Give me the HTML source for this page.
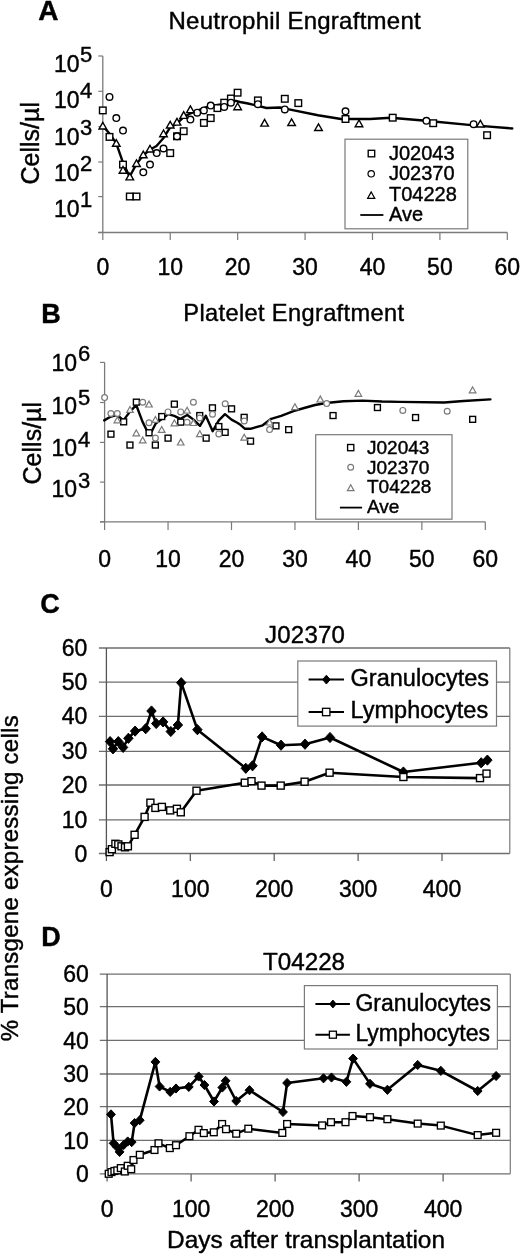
<!DOCTYPE html>
<html><head><meta charset="utf-8"><title>Engraftment</title>
<style>
html,body{margin:0;padding:0;background:#fff;}
body{width:520px;height:1255px;overflow:hidden;}
svg{display:block;font-family:"Liberation Sans", Arial, sans-serif;}
text{stroke:#000;stroke-width:0.42px;}
</style></head>
<body>
<svg width="520" height="1255" viewBox="0 0 520 1255" fill="#000">
<text x="38.2" y="20.0" font-size="28" text-anchor="start" font-weight="bold" >A</text>
<text x="168.5" y="29.3" font-size="24" text-anchor="start" font-weight="normal" textLength="252.2" lengthAdjust="spacing">Neutrophil Engraftment</text>
<line x1="102.8" y1="56.0" x2="102.8" y2="232.5" stroke="#7a7a7a" stroke-width="1.3"/>
<line x1="98.3" y1="232.5" x2="102.8" y2="232.5" stroke="#7a7a7a" stroke-width="1.2"/>
<line x1="98.3" y1="196.6" x2="102.8" y2="196.6" stroke="#7a7a7a" stroke-width="1.2"/>
<line x1="98.3" y1="162.0" x2="102.8" y2="162.0" stroke="#7a7a7a" stroke-width="1.2"/>
<line x1="98.3" y1="126.6" x2="102.8" y2="126.6" stroke="#7a7a7a" stroke-width="1.2"/>
<line x1="98.3" y1="91.3" x2="102.8" y2="91.3" stroke="#7a7a7a" stroke-width="1.2"/>
<line x1="98.3" y1="56.0" x2="102.8" y2="56.0" stroke="#7a7a7a" stroke-width="1.2"/>
<line x1="98.3" y1="232.5" x2="507.32" y2="232.5" stroke="#7a7a7a" stroke-width="1.3"/>
<line x1="102.8" y1="232.5" x2="102.8" y2="240.0" stroke="#7a7a7a" stroke-width="1.2"/>
<text x="102.8" y="275.3" font-size="23" text-anchor="middle" font-weight="normal" >0</text>
<line x1="170.22" y1="232.5" x2="170.22" y2="240.0" stroke="#7a7a7a" stroke-width="1.2"/>
<text x="170.22" y="275.3" font-size="23" text-anchor="middle" font-weight="normal" >10</text>
<line x1="237.64" y1="232.5" x2="237.64" y2="240.0" stroke="#7a7a7a" stroke-width="1.2"/>
<text x="237.64" y="275.3" font-size="23" text-anchor="middle" font-weight="normal" >20</text>
<line x1="305.06" y1="232.5" x2="305.06" y2="240.0" stroke="#7a7a7a" stroke-width="1.2"/>
<text x="305.06" y="275.3" font-size="23" text-anchor="middle" font-weight="normal" >30</text>
<line x1="372.48" y1="232.5" x2="372.48" y2="240.0" stroke="#7a7a7a" stroke-width="1.2"/>
<text x="372.48" y="275.3" font-size="23" text-anchor="middle" font-weight="normal" >40</text>
<line x1="439.90000000000003" y1="232.5" x2="439.90000000000003" y2="240.0" stroke="#7a7a7a" stroke-width="1.2"/>
<text x="439.90000000000003" y="275.3" font-size="23" text-anchor="middle" font-weight="normal" >50</text>
<line x1="507.32" y1="232.5" x2="507.32" y2="240.0" stroke="#7a7a7a" stroke-width="1.2"/>
<text x="507.32" y="275.3" font-size="23" text-anchor="middle" font-weight="normal" >60</text>
<text x="79.5" y="71.7" font-size="23" text-anchor="end" font-weight="normal" >10</text>
<text x="80" y="61.800000000000004" font-size="22" text-anchor="start" font-weight="normal" >5</text>
<text x="79.5" y="107.8" font-size="23" text-anchor="end" font-weight="normal" >10</text>
<text x="80" y="97.9" font-size="22" text-anchor="start" font-weight="normal" >4</text>
<text x="79.5" y="144.60000000000002" font-size="23" text-anchor="end" font-weight="normal" >10</text>
<text x="80" y="134.70000000000002" font-size="22" text-anchor="start" font-weight="normal" >3</text>
<text x="79.5" y="180.8" font-size="23" text-anchor="end" font-weight="normal" >10</text>
<text x="80" y="170.9" font-size="22" text-anchor="start" font-weight="normal" >2</text>
<text x="79.5" y="217.10000000000002" font-size="23" text-anchor="end" font-weight="normal" >10</text>
<text x="80" y="207.20000000000002" font-size="22" text-anchor="start" font-weight="normal" >1</text>
<text transform="translate(39.2,143.3) rotate(-90)" font-size="25" text-anchor="middle">Cells/µl</text>
<polyline points="102.8,125.8 109.4,133.5 116.2,143.1 122.9,162.3 129.6,176.7 136.3,164.2 143.1,155.6 149.8,149.8 156.5,146.0 163.3,138.3 170.0,127.7 176.7,123.8 183.5,117.1 190.6,113.3 197.3,110.5 204.0,108.0 210.8,106.0 217.5,105.0 224.2,104.0 231.0,102.0 235.8,100.8 240.0,102.0 248.0,103.5 257.0,105.6 266.5,108.0 280.0,107.5 289.0,109.4 318.0,115.2 341.0,119.0 351.0,119.0 370.0,119.0 390.8,117.7 426.0,120.8 474.0,125.4 512.3,128.5" fill="none" stroke="#000" stroke-width="2.4" stroke-linejoin="round" stroke-linecap="round"/>
<rect x="99.5" y="107.1" width="6.6" height="6.6" fill="#fff" stroke="#000" stroke-width="1.4"/>
<rect x="106.2" y="133.6" width="6.6" height="6.6" fill="#fff" stroke="#000" stroke-width="1.4"/>
<rect x="119.7" y="161.3" width="6.6" height="6.6" fill="#fff" stroke="#000" stroke-width="1.4"/>
<rect x="126.5" y="193.2" width="6.6" height="6.6" fill="#fff" stroke="#000" stroke-width="1.4"/>
<rect x="133.2" y="193.2" width="6.6" height="6.6" fill="#fff" stroke="#000" stroke-width="1.4"/>
<rect x="166.9" y="149.8" width="6.6" height="6.6" fill="#fff" stroke="#000" stroke-width="1.4"/>
<rect x="173.7" y="133.0" width="6.6" height="6.6" fill="#fff" stroke="#000" stroke-width="1.4"/>
<rect x="180.4" y="127.9" width="6.6" height="6.6" fill="#fff" stroke="#000" stroke-width="1.4"/>
<rect x="200.6" y="119.6" width="6.6" height="6.6" fill="#fff" stroke="#000" stroke-width="1.4"/>
<rect x="207.4" y="114.8" width="6.6" height="6.6" fill="#fff" stroke="#000" stroke-width="1.4"/>
<rect x="214.1" y="104.8" width="6.6" height="6.6" fill="#fff" stroke="#000" stroke-width="1.4"/>
<rect x="220.9" y="99.4" width="6.6" height="6.6" fill="#fff" stroke="#000" stroke-width="1.4"/>
<rect x="227.6" y="95.2" width="6.6" height="6.6" fill="#fff" stroke="#000" stroke-width="1.4"/>
<rect x="234.3" y="89.4" width="6.6" height="6.6" fill="#fff" stroke="#000" stroke-width="1.4"/>
<rect x="254.6" y="97.1" width="6.6" height="6.6" fill="#fff" stroke="#000" stroke-width="1.4"/>
<rect x="281.5" y="95.5" width="6.6" height="6.6" fill="#fff" stroke="#000" stroke-width="1.4"/>
<rect x="295.0" y="99.8" width="6.6" height="6.6" fill="#fff" stroke="#000" stroke-width="1.4"/>
<rect x="342.2" y="115.7" width="6.6" height="6.6" fill="#fff" stroke="#000" stroke-width="1.4"/>
<rect x="389.4" y="114.4" width="6.6" height="6.6" fill="#fff" stroke="#000" stroke-width="1.4"/>
<rect x="429.9" y="119.9" width="6.6" height="6.6" fill="#fff" stroke="#000" stroke-width="1.4"/>
<rect x="483.8" y="131.9" width="6.6" height="6.6" fill="#fff" stroke="#000" stroke-width="1.4"/>
<circle cx="109.5" cy="96.9" r="3.3" fill="#fff" stroke="#000" stroke-width="1.4"/>
<circle cx="116.3" cy="118.1" r="3.3" fill="#fff" stroke="#000" stroke-width="1.4"/>
<circle cx="123.0" cy="130.6" r="3.3" fill="#fff" stroke="#000" stroke-width="1.4"/>
<circle cx="143.3" cy="172.3" r="3.3" fill="#fff" stroke="#000" stroke-width="1.4"/>
<circle cx="150.0" cy="164.6" r="3.3" fill="#fff" stroke="#000" stroke-width="1.4"/>
<circle cx="156.7" cy="153.1" r="3.3" fill="#fff" stroke="#000" stroke-width="1.4"/>
<circle cx="163.5" cy="148.5" r="3.3" fill="#fff" stroke="#000" stroke-width="1.4"/>
<circle cx="177.0" cy="136.3" r="3.3" fill="#fff" stroke="#000" stroke-width="1.4"/>
<circle cx="190.4" cy="119.6" r="3.3" fill="#fff" stroke="#000" stroke-width="1.4"/>
<circle cx="197.2" cy="112.7" r="3.3" fill="#fff" stroke="#000" stroke-width="1.4"/>
<circle cx="203.9" cy="110.4" r="3.3" fill="#fff" stroke="#000" stroke-width="1.4"/>
<circle cx="210.7" cy="105.6" r="3.3" fill="#fff" stroke="#000" stroke-width="1.4"/>
<circle cx="224.2" cy="106.9" r="3.3" fill="#fff" stroke="#000" stroke-width="1.4"/>
<circle cx="230.9" cy="102.7" r="3.3" fill="#fff" stroke="#000" stroke-width="1.4"/>
<circle cx="257.9" cy="104.2" r="3.3" fill="#fff" stroke="#000" stroke-width="1.4"/>
<circle cx="284.8" cy="109.4" r="3.3" fill="#fff" stroke="#000" stroke-width="1.4"/>
<circle cx="345.5" cy="111.3" r="3.3" fill="#fff" stroke="#000" stroke-width="1.4"/>
<circle cx="426.4" cy="120.8" r="3.3" fill="#fff" stroke="#000" stroke-width="1.4"/>
<circle cx="473.6" cy="124.2" r="3.3" fill="#fff" stroke="#000" stroke-width="1.4"/>
<polygon points="102.8,122.3 99.0,129.0 106.6,129.0" fill="#fff" stroke="#000" stroke-width="1.4" stroke-linejoin="miter"/>
<polygon points="116.3,139.6 112.5,146.3 120.1,146.3" fill="#fff" stroke="#000" stroke-width="1.4" stroke-linejoin="miter"/>
<polygon points="123.0,166.5 119.2,173.2 126.8,173.2" fill="#fff" stroke="#000" stroke-width="1.4" stroke-linejoin="miter"/>
<polygon points="129.8,173.2 126.0,179.9 133.6,179.9" fill="#fff" stroke="#000" stroke-width="1.4" stroke-linejoin="miter"/>
<polygon points="136.5,159.8 132.7,166.5 140.3,166.5" fill="#fff" stroke="#000" stroke-width="1.4" stroke-linejoin="miter"/>
<polygon points="143.3,151.1 139.5,157.8 147.1,157.8" fill="#fff" stroke="#000" stroke-width="1.4" stroke-linejoin="miter"/>
<polygon points="150.0,145.3 146.2,152.0 153.8,152.0" fill="#fff" stroke="#000" stroke-width="1.4" stroke-linejoin="miter"/>
<polygon points="163.5,130.0 159.7,136.7 167.3,136.7" fill="#fff" stroke="#000" stroke-width="1.4" stroke-linejoin="miter"/>
<polygon points="170.2,121.3 166.4,128.0 174.0,128.0" fill="#fff" stroke="#000" stroke-width="1.4" stroke-linejoin="miter"/>
<polygon points="177.0,118.4 173.2,125.1 180.8,125.1" fill="#fff" stroke="#000" stroke-width="1.4" stroke-linejoin="miter"/>
<polygon points="183.7,111.7 179.9,118.4 187.5,118.4" fill="#fff" stroke="#000" stroke-width="1.4" stroke-linejoin="miter"/>
<polygon points="190.4,105.9 186.6,112.6 194.2,112.6" fill="#fff" stroke="#000" stroke-width="1.4" stroke-linejoin="miter"/>
<polygon points="237.6,103.0 233.8,109.7 241.4,109.7" fill="#fff" stroke="#000" stroke-width="1.4" stroke-linejoin="miter"/>
<polygon points="264.6,119.4 260.8,126.1 268.4,126.1" fill="#fff" stroke="#000" stroke-width="1.4" stroke-linejoin="miter"/>
<polygon points="291.6,118.8 287.8,125.5 295.4,125.5" fill="#fff" stroke="#000" stroke-width="1.4" stroke-linejoin="miter"/>
<polygon points="318.5,123.8 314.7,130.5 322.3,130.5" fill="#fff" stroke="#000" stroke-width="1.4" stroke-linejoin="miter"/>
<polygon points="359.0,120.0 355.2,126.7 362.8,126.7" fill="#fff" stroke="#000" stroke-width="1.4" stroke-linejoin="miter"/>
<polygon points="480.4,120.3 476.6,127.0 484.2,127.0" fill="#fff" stroke="#000" stroke-width="1.4" stroke-linejoin="miter"/>
<rect x="345" y="139.2" width="122.8" height="89.6" fill="#fff" stroke="#7a7a7a" stroke-width="1.2"/>
<rect x="368.2" y="150.3" width="6.5" height="6.5" fill="#fff" stroke="#000" stroke-width="1.35"/>
<circle cx="371.2" cy="173.8" r="3.2" fill="#fff" stroke="#000" stroke-width="1.2"/>
<polygon points="371.2,191.9 367.6,198.4 374.8,198.4" fill="#fff" stroke="#000" stroke-width="1.2" stroke-linejoin="miter"/>
<line x1="360.3" y1="215" x2="383.4" y2="215" stroke="#000" stroke-width="1.8"/>
<text x="389" y="159.9" font-size="20" text-anchor="start" font-weight="normal" >J02043</text>
<text x="389" y="180.43" font-size="20" text-anchor="start" font-weight="normal" >J02370</text>
<text x="389" y="200.96" font-size="20" text-anchor="start" font-weight="normal" >T04228</text>
<text x="389" y="221.49" font-size="20" text-anchor="start" font-weight="normal" >Ave</text>
<text x="41.2" y="323.4" font-size="27" text-anchor="start" font-weight="bold" >B</text>
<text x="183.3" y="320.6" font-size="23.6" text-anchor="start" font-weight="normal" textLength="220.7" lengthAdjust="spacing">Platelet Engraftment</text>
<line x1="104.6" y1="362.4" x2="104.6" y2="521.8" stroke="#7a7a7a" stroke-width="1.3"/>
<line x1="100.1" y1="521.8" x2="104.6" y2="521.8" stroke="#7a7a7a" stroke-width="1.2"/>
<line x1="100.1" y1="482.1" x2="104.6" y2="482.1" stroke="#7a7a7a" stroke-width="1.2"/>
<line x1="100.1" y1="442.4" x2="104.6" y2="442.4" stroke="#7a7a7a" stroke-width="1.2"/>
<line x1="100.1" y1="402.5" x2="104.6" y2="402.5" stroke="#7a7a7a" stroke-width="1.2"/>
<line x1="100.1" y1="362.4" x2="104.6" y2="362.4" stroke="#7a7a7a" stroke-width="1.2"/>
<line x1="100.1" y1="521.8" x2="485.29999999999995" y2="521.8" stroke="#7a7a7a" stroke-width="1.3"/>
<line x1="104.6" y1="521.8" x2="104.6" y2="530.0999999999999" stroke="#7a7a7a" stroke-width="1.2"/>
<text x="104.6" y="566.6" font-size="23" text-anchor="middle" font-weight="normal" >0</text>
<line x1="168.04999999999998" y1="521.8" x2="168.04999999999998" y2="530.0999999999999" stroke="#7a7a7a" stroke-width="1.2"/>
<text x="168.04999999999998" y="566.6" font-size="23" text-anchor="middle" font-weight="normal" >10</text>
<line x1="231.5" y1="521.8" x2="231.5" y2="530.0999999999999" stroke="#7a7a7a" stroke-width="1.2"/>
<text x="231.5" y="566.6" font-size="23" text-anchor="middle" font-weight="normal" >20</text>
<line x1="294.95" y1="521.8" x2="294.95" y2="530.0999999999999" stroke="#7a7a7a" stroke-width="1.2"/>
<text x="294.95" y="566.6" font-size="23" text-anchor="middle" font-weight="normal" >30</text>
<line x1="358.4" y1="521.8" x2="358.4" y2="530.0999999999999" stroke="#7a7a7a" stroke-width="1.2"/>
<text x="358.4" y="566.6" font-size="23" text-anchor="middle" font-weight="normal" >40</text>
<line x1="421.85" y1="521.8" x2="421.85" y2="530.0999999999999" stroke="#7a7a7a" stroke-width="1.2"/>
<text x="421.85" y="566.6" font-size="23" text-anchor="middle" font-weight="normal" >50</text>
<line x1="485.29999999999995" y1="521.8" x2="485.29999999999995" y2="530.0999999999999" stroke="#7a7a7a" stroke-width="1.2"/>
<text x="485.29999999999995" y="566.6" font-size="23" text-anchor="middle" font-weight="normal" >60</text>
<text x="77" y="370.7" font-size="23" text-anchor="end" font-weight="normal" >10</text>
<text x="78" y="361.3" font-size="22" text-anchor="start" font-weight="normal" >6</text>
<text x="77" y="414.0" font-size="23" text-anchor="end" font-weight="normal" >10</text>
<text x="78" y="404.6" font-size="22" text-anchor="start" font-weight="normal" >5</text>
<text x="77" y="456.2" font-size="23" text-anchor="end" font-weight="normal" >10</text>
<text x="78" y="446.8" font-size="22" text-anchor="start" font-weight="normal" >4</text>
<text x="77" y="497.1" font-size="23" text-anchor="end" font-weight="normal" >10</text>
<text x="78" y="487.70000000000005" font-size="22" text-anchor="start" font-weight="normal" >3</text>
<text transform="translate(41,443.2) rotate(-90)" font-size="25" text-anchor="middle">Cells/µl</text>
<polyline points="104.2,420.4 110.9,416.5 117.2,415.0 123.4,420.4 129.8,411.9 136.2,405.0 142.6,421.9 147.2,431.2 151.8,431.2 155.7,423.5 161.1,419.6 168.0,414.2 174.2,415.8 180.4,418.8 187.3,415.0 193.5,419.6 200.0,425.8 205.8,415.8 212.7,431.2 218.8,420.4 225.0,414.2 231.5,419.6 237.3,422.7 239.6,424.2 245.0,428.8 250.4,428.8 262.7,425.3 271.2,418.8 281.2,415.8 293.5,411.2 304.2,408.0 315.0,405.0 320.4,404.0 326.2,403.0 343.5,401.2 362.7,400.6 381.9,401.5 400.0,401.9 444.2,402.5 463.5,401.0 490.4,399.4" fill="none" stroke="#000" stroke-width="2.4" stroke-linejoin="round" stroke-linecap="round"/>
<rect x="108.0" y="431.2" width="5.9" height="5.9" fill="#fff" stroke="#000" stroke-width="1.4"/>
<rect x="120.7" y="418.9" width="5.9" height="5.9" fill="#fff" stroke="#000" stroke-width="1.4"/>
<rect x="127.0" y="442.1" width="5.9" height="5.9" fill="#fff" stroke="#000" stroke-width="1.4"/>
<rect x="133.4" y="399.2" width="5.9" height="5.9" fill="#fff" stroke="#000" stroke-width="1.4"/>
<rect x="146.1" y="429.8" width="5.9" height="5.9" fill="#fff" stroke="#000" stroke-width="1.4"/>
<rect x="152.4" y="442.1" width="5.9" height="5.9" fill="#fff" stroke="#000" stroke-width="1.4"/>
<rect x="158.8" y="413.6" width="5.9" height="5.9" fill="#fff" stroke="#000" stroke-width="1.4"/>
<rect x="165.1" y="435.2" width="5.9" height="5.9" fill="#fff" stroke="#000" stroke-width="1.4"/>
<rect x="171.4" y="401.2" width="5.9" height="5.9" fill="#fff" stroke="#000" stroke-width="1.4"/>
<rect x="177.8" y="419.2" width="5.9" height="5.9" fill="#fff" stroke="#000" stroke-width="1.4"/>
<rect x="196.8" y="412.6" width="5.9" height="5.9" fill="#fff" stroke="#000" stroke-width="1.4"/>
<rect x="203.2" y="435.2" width="5.9" height="5.9" fill="#fff" stroke="#000" stroke-width="1.4"/>
<rect x="209.5" y="404.9" width="5.9" height="5.9" fill="#fff" stroke="#000" stroke-width="1.4"/>
<rect x="215.9" y="423.6" width="5.9" height="5.9" fill="#fff" stroke="#000" stroke-width="1.4"/>
<rect x="222.2" y="429.4" width="5.9" height="5.9" fill="#fff" stroke="#000" stroke-width="1.4"/>
<rect x="228.6" y="405.9" width="5.9" height="5.9" fill="#fff" stroke="#000" stroke-width="1.4"/>
<rect x="241.2" y="414.4" width="5.9" height="5.9" fill="#fff" stroke="#000" stroke-width="1.4"/>
<rect x="247.6" y="438.2" width="5.9" height="5.9" fill="#fff" stroke="#000" stroke-width="1.4"/>
<rect x="273.0" y="422.9" width="5.9" height="5.9" fill="#fff" stroke="#000" stroke-width="1.4"/>
<rect x="285.7" y="426.7" width="5.9" height="5.9" fill="#fff" stroke="#000" stroke-width="1.4"/>
<rect x="330.1" y="412.6" width="5.9" height="5.9" fill="#fff" stroke="#000" stroke-width="1.4"/>
<rect x="374.5" y="404.6" width="5.9" height="5.9" fill="#fff" stroke="#000" stroke-width="1.4"/>
<rect x="412.6" y="414.6" width="5.9" height="5.9" fill="#fff" stroke="#000" stroke-width="1.4"/>
<rect x="469.7" y="416.4" width="5.9" height="5.9" fill="#fff" stroke="#000" stroke-width="1.4"/>
<circle cx="104.6" cy="397.6" r="2.9" fill="#fff" stroke="#7a7a7a" stroke-width="1.2"/>
<circle cx="110.9" cy="413.5" r="2.9" fill="#fff" stroke="#7a7a7a" stroke-width="1.2"/>
<circle cx="117.3" cy="413.5" r="2.9" fill="#fff" stroke="#7a7a7a" stroke-width="1.2"/>
<circle cx="142.7" cy="402.2" r="2.9" fill="#fff" stroke="#7a7a7a" stroke-width="1.2"/>
<circle cx="149.0" cy="422.7" r="2.9" fill="#fff" stroke="#7a7a7a" stroke-width="1.2"/>
<circle cx="155.4" cy="438.1" r="2.9" fill="#fff" stroke="#7a7a7a" stroke-width="1.2"/>
<circle cx="168.0" cy="411.9" r="2.9" fill="#fff" stroke="#7a7a7a" stroke-width="1.2"/>
<circle cx="180.7" cy="411.9" r="2.9" fill="#fff" stroke="#7a7a7a" stroke-width="1.2"/>
<circle cx="187.1" cy="422.2" r="2.9" fill="#fff" stroke="#7a7a7a" stroke-width="1.2"/>
<circle cx="193.4" cy="402.2" r="2.9" fill="#fff" stroke="#7a7a7a" stroke-width="1.2"/>
<circle cx="199.8" cy="418.0" r="2.9" fill="#fff" stroke="#7a7a7a" stroke-width="1.2"/>
<circle cx="212.5" cy="414.2" r="2.9" fill="#fff" stroke="#7a7a7a" stroke-width="1.2"/>
<circle cx="218.8" cy="433.9" r="2.9" fill="#fff" stroke="#7a7a7a" stroke-width="1.2"/>
<circle cx="225.2" cy="403.8" r="2.9" fill="#fff" stroke="#7a7a7a" stroke-width="1.2"/>
<circle cx="244.2" cy="421.0" r="2.9" fill="#fff" stroke="#7a7a7a" stroke-width="1.2"/>
<circle cx="269.6" cy="429.6" r="2.9" fill="#fff" stroke="#7a7a7a" stroke-width="1.2"/>
<circle cx="326.7" cy="403.6" r="2.9" fill="#fff" stroke="#7a7a7a" stroke-width="1.2"/>
<circle cx="402.8" cy="410.4" r="2.9" fill="#fff" stroke="#7a7a7a" stroke-width="1.2"/>
<circle cx="447.2" cy="411.3" r="2.9" fill="#fff" stroke="#7a7a7a" stroke-width="1.2"/>
<polygon points="117.3,417.0 114.0,422.9 120.6,422.9" fill="#fff" stroke="#7a7a7a" stroke-width="1.2" stroke-linejoin="miter"/>
<polygon points="130.0,406.5 126.7,412.4 133.3,412.4" fill="#fff" stroke="#7a7a7a" stroke-width="1.2" stroke-linejoin="miter"/>
<polygon points="136.3,429.9 133.0,435.8 139.6,435.8" fill="#fff" stroke="#7a7a7a" stroke-width="1.2" stroke-linejoin="miter"/>
<polygon points="142.7,437.0 139.4,442.9 146.0,442.9" fill="#fff" stroke="#7a7a7a" stroke-width="1.2" stroke-linejoin="miter"/>
<polygon points="149.0,401.1 145.7,407.0 152.3,407.0" fill="#fff" stroke="#7a7a7a" stroke-width="1.2" stroke-linejoin="miter"/>
<polygon points="155.4,416.5 152.1,422.4 158.7,422.4" fill="#fff" stroke="#7a7a7a" stroke-width="1.2" stroke-linejoin="miter"/>
<polygon points="161.7,426.5 158.4,432.4 165.0,432.4" fill="#fff" stroke="#7a7a7a" stroke-width="1.2" stroke-linejoin="miter"/>
<polygon points="174.4,419.9 171.1,425.8 177.7,425.8" fill="#fff" stroke="#7a7a7a" stroke-width="1.2" stroke-linejoin="miter"/>
<polygon points="180.7,439.1 177.4,445.0 184.0,445.0" fill="#fff" stroke="#7a7a7a" stroke-width="1.2" stroke-linejoin="miter"/>
<polygon points="187.1,407.3 183.8,413.2 190.4,413.2" fill="#fff" stroke="#7a7a7a" stroke-width="1.2" stroke-linejoin="miter"/>
<polygon points="193.4,419.6 190.1,425.5 196.7,425.5" fill="#fff" stroke="#7a7a7a" stroke-width="1.2" stroke-linejoin="miter"/>
<polygon points="199.8,430.8 196.5,436.7 203.1,436.7" fill="#fff" stroke="#7a7a7a" stroke-width="1.2" stroke-linejoin="miter"/>
<polygon points="244.2,434.2 240.9,440.1 247.5,440.1" fill="#fff" stroke="#7a7a7a" stroke-width="1.2" stroke-linejoin="miter"/>
<polygon points="269.6,419.1 266.3,425.0 272.9,425.0" fill="#fff" stroke="#7a7a7a" stroke-width="1.2" stroke-linejoin="miter"/>
<polygon points="294.9,403.7 291.6,409.6 298.2,409.6" fill="#fff" stroke="#7a7a7a" stroke-width="1.2" stroke-linejoin="miter"/>
<polygon points="320.3,396.1 317.0,402.0 323.6,402.0" fill="#fff" stroke="#7a7a7a" stroke-width="1.2" stroke-linejoin="miter"/>
<polygon points="358.4,390.4 355.1,396.3 361.7,396.3" fill="#fff" stroke="#7a7a7a" stroke-width="1.2" stroke-linejoin="miter"/>
<polygon points="472.6,386.9 469.3,392.8 475.9,392.8" fill="#fff" stroke="#7a7a7a" stroke-width="1.2" stroke-linejoin="miter"/>
<rect x="315.7" y="434.7" width="136.3" height="84.5" fill="#fff" stroke="#7a7a7a" stroke-width="1.2"/>
<rect x="347.6" y="444.5" width="6.2" height="6.2" fill="#fff" stroke="#000" stroke-width="1.35"/>
<circle cx="350.7" cy="467.2" r="2.9" fill="#fff" stroke="#7a7a7a" stroke-width="1.2"/>
<polygon points="350.7,484.7 347.4,490.6 354.0,490.6" fill="#fff" stroke="#7a7a7a" stroke-width="1.2" stroke-linejoin="miter"/>
<line x1="339.9" y1="507.6" x2="362.1" y2="507.6" stroke="#000" stroke-width="1.8"/>
<text x="367" y="453.8" font-size="19" text-anchor="start" font-weight="normal" >J02043</text>
<text x="367" y="473.5" font-size="19" text-anchor="start" font-weight="normal" >J02370</text>
<text x="367" y="493.2" font-size="19" text-anchor="start" font-weight="normal" >T04228</text>
<text x="367" y="512.9" font-size="19" text-anchor="start" font-weight="normal" >Ave</text>
<text x="40.3" y="613.3" font-size="27" text-anchor="start" font-weight="bold" >C</text>
<text x="265.0" y="642.8" font-size="24" text-anchor="start" font-weight="normal" textLength="79.9" lengthAdjust="spacing">J02370</text>
<line x1="98.9" y1="853.5" x2="509.8" y2="853.5" stroke="#6e6e6e" stroke-width="1.3"/>
<text x="87.3" y="861.5" font-size="23" text-anchor="end" font-weight="normal" >0</text>
<line x1="98.9" y1="819.8" x2="509.8" y2="819.8" stroke="#6e6e6e" stroke-width="1.3"/>
<text x="87.3" y="827.8" font-size="23" text-anchor="end" font-weight="normal" >10</text>
<line x1="98.9" y1="785.0" x2="509.8" y2="785.0" stroke="#6e6e6e" stroke-width="1.3"/>
<text x="87.3" y="793.0" font-size="23" text-anchor="end" font-weight="normal" >20</text>
<line x1="98.9" y1="751.3" x2="509.8" y2="751.3" stroke="#6e6e6e" stroke-width="1.3"/>
<text x="87.3" y="759.3" font-size="23" text-anchor="end" font-weight="normal" >30</text>
<line x1="98.9" y1="716.4" x2="509.8" y2="716.4" stroke="#6e6e6e" stroke-width="1.3"/>
<text x="87.3" y="724.4" font-size="23" text-anchor="end" font-weight="normal" >40</text>
<line x1="98.9" y1="682.1" x2="509.8" y2="682.1" stroke="#6e6e6e" stroke-width="1.3"/>
<text x="87.3" y="690.1" font-size="23" text-anchor="end" font-weight="normal" >50</text>
<line x1="98.9" y1="648.0" x2="509.8" y2="648.0" stroke="#6e6e6e" stroke-width="1.3"/>
<text x="87.3" y="656.0" font-size="23" text-anchor="end" font-weight="normal" >60</text>
<line x1="509.8" y1="648.0" x2="509.8" y2="853.5" stroke="#7a7a7a" stroke-width="1.2"/>
<line x1="106.4" y1="648.0" x2="106.4" y2="853.5" stroke="#555" stroke-width="1.3"/>
<line x1="106.4" y1="853.6" x2="106.4" y2="861.1" stroke="#555" stroke-width="1.2"/>
<text x="106.4" y="897.3" font-size="23" text-anchor="middle" font-weight="normal" >0</text>
<line x1="190.3" y1="853.6" x2="190.3" y2="861.1" stroke="#555" stroke-width="1.2"/>
<text x="190.3" y="897.3" font-size="23" text-anchor="middle" font-weight="normal" >100</text>
<line x1="274.2" y1="853.6" x2="274.2" y2="861.1" stroke="#555" stroke-width="1.2"/>
<text x="274.2" y="897.3" font-size="23" text-anchor="middle" font-weight="normal" >200</text>
<line x1="358.1" y1="853.6" x2="358.1" y2="861.1" stroke="#555" stroke-width="1.2"/>
<text x="358.1" y="897.3" font-size="23" text-anchor="middle" font-weight="normal" >300</text>
<line x1="442.0" y1="853.6" x2="442.0" y2="861.1" stroke="#555" stroke-width="1.2"/>
<text x="442.0" y="897.3" font-size="23" text-anchor="middle" font-weight="normal" >400</text>
<polyline points="110.1,741.6 113.0,748.8 118.3,741.6 123.1,747.4 128.4,738.3 135.1,731.1 145.7,728.7 151.5,711.0 156.2,723.5 163.1,721.9 170.8,731.5 177.9,725.0 181.2,682.7 197.4,729.7 245.8,768.3 252.5,765.8 262.1,736.9 281.0,745.2 305.0,744.2 330.0,737.5 403.4,772.0 481.2,762.8 487.4,760.1" fill="none" stroke="#000" stroke-width="2.6" stroke-linejoin="round" stroke-linecap="round"/>
<polygon points="110.1,736.5 114.8,741.6 110.1,746.7 105.4,741.6" fill="#000" stroke="#000" stroke-width="1"/>
<polygon points="113.0,743.7 117.7,748.8 113.0,753.9 108.3,748.8" fill="#000" stroke="#000" stroke-width="1"/>
<polygon points="118.3,736.5 123.0,741.6 118.3,746.7 113.6,741.6" fill="#000" stroke="#000" stroke-width="1"/>
<polygon points="123.1,742.3 127.8,747.4 123.1,752.5 118.4,747.4" fill="#000" stroke="#000" stroke-width="1"/>
<polygon points="128.4,733.2 133.1,738.3 128.4,743.4 123.7,738.3" fill="#000" stroke="#000" stroke-width="1"/>
<polygon points="135.1,726.0 139.8,731.1 135.1,736.2 130.4,731.1" fill="#000" stroke="#000" stroke-width="1"/>
<polygon points="145.7,723.6 150.4,728.7 145.7,733.8 141.0,728.7" fill="#000" stroke="#000" stroke-width="1"/>
<polygon points="151.5,705.9 156.2,711.0 151.5,716.1 146.8,711.0" fill="#000" stroke="#000" stroke-width="1"/>
<polygon points="156.2,718.4 160.9,723.5 156.2,728.6 151.5,723.5" fill="#000" stroke="#000" stroke-width="1"/>
<polygon points="163.1,716.8 167.8,721.9 163.1,727.0 158.4,721.9" fill="#000" stroke="#000" stroke-width="1"/>
<polygon points="170.8,726.4 175.5,731.5 170.8,736.6 166.1,731.5" fill="#000" stroke="#000" stroke-width="1"/>
<polygon points="177.9,719.9 182.6,725.0 177.9,730.1 173.2,725.0" fill="#000" stroke="#000" stroke-width="1"/>
<polygon points="181.2,677.6 185.9,682.7 181.2,687.8 176.5,682.7" fill="#000" stroke="#000" stroke-width="1"/>
<polygon points="197.4,724.6 202.1,729.7 197.4,734.8 192.7,729.7" fill="#000" stroke="#000" stroke-width="1"/>
<polygon points="245.8,763.2 250.5,768.3 245.8,773.4 241.1,768.3" fill="#000" stroke="#000" stroke-width="1"/>
<polygon points="252.5,760.7 257.2,765.8 252.5,770.9 247.8,765.8" fill="#000" stroke="#000" stroke-width="1"/>
<polygon points="262.1,731.8 266.8,736.9 262.1,742.0 257.4,736.9" fill="#000" stroke="#000" stroke-width="1"/>
<polygon points="281.0,740.1 285.7,745.2 281.0,750.3 276.3,745.2" fill="#000" stroke="#000" stroke-width="1"/>
<polygon points="305.0,739.1 309.7,744.2 305.0,749.3 300.3,744.2" fill="#000" stroke="#000" stroke-width="1"/>
<polygon points="330.0,732.4 334.7,737.5 330.0,742.6 325.3,737.5" fill="#000" stroke="#000" stroke-width="1"/>
<polygon points="403.4,766.9 408.1,772.0 403.4,777.1 398.7,772.0" fill="#000" stroke="#000" stroke-width="1"/>
<polygon points="481.2,757.7 485.9,762.8 481.2,767.9 476.5,762.8" fill="#000" stroke="#000" stroke-width="1"/>
<polygon points="487.4,755.0 492.1,760.1 487.4,765.2 482.7,760.1" fill="#000" stroke="#000" stroke-width="1"/>
<polyline points="109.6,852.1 111.9,849.2 115.4,843.8 118.3,844.4 121.5,846.3 125.0,847.3 127.9,846.3 134.6,834.8 144.6,816.9 150.4,802.7 155.4,807.9 161.9,806.9 170.2,810.4 176.9,808.8 180.8,812.3 196.5,790.7 244.8,782.7 251.5,781.2 261.5,785.6 280.7,785.6 304.6,781.7 329.6,772.7 403.4,777.0 480.0,778.1 486.5,773.6" fill="none" stroke="#000" stroke-width="2.6" stroke-linejoin="round" stroke-linecap="round"/>
<rect x="106.1" y="848.6" width="7.0" height="7.0" fill="#fff" stroke="#000" stroke-width="1.4"/>
<rect x="108.4" y="845.7" width="7.0" height="7.0" fill="#fff" stroke="#000" stroke-width="1.4"/>
<rect x="111.9" y="840.3" width="7.0" height="7.0" fill="#fff" stroke="#000" stroke-width="1.4"/>
<rect x="114.8" y="840.9" width="7.0" height="7.0" fill="#fff" stroke="#000" stroke-width="1.4"/>
<rect x="118.0" y="842.8" width="7.0" height="7.0" fill="#fff" stroke="#000" stroke-width="1.4"/>
<rect x="121.5" y="843.8" width="7.0" height="7.0" fill="#fff" stroke="#000" stroke-width="1.4"/>
<rect x="124.4" y="842.8" width="7.0" height="7.0" fill="#fff" stroke="#000" stroke-width="1.4"/>
<rect x="131.1" y="831.3" width="7.0" height="7.0" fill="#fff" stroke="#000" stroke-width="1.4"/>
<rect x="141.1" y="813.4" width="7.0" height="7.0" fill="#fff" stroke="#000" stroke-width="1.4"/>
<rect x="146.9" y="799.2" width="7.0" height="7.0" fill="#fff" stroke="#000" stroke-width="1.4"/>
<rect x="151.9" y="804.4" width="7.0" height="7.0" fill="#fff" stroke="#000" stroke-width="1.4"/>
<rect x="158.4" y="803.4" width="7.0" height="7.0" fill="#fff" stroke="#000" stroke-width="1.4"/>
<rect x="166.7" y="806.9" width="7.0" height="7.0" fill="#fff" stroke="#000" stroke-width="1.4"/>
<rect x="173.4" y="805.3" width="7.0" height="7.0" fill="#fff" stroke="#000" stroke-width="1.4"/>
<rect x="177.3" y="808.8" width="7.0" height="7.0" fill="#fff" stroke="#000" stroke-width="1.4"/>
<rect x="193.0" y="787.2" width="7.0" height="7.0" fill="#fff" stroke="#000" stroke-width="1.4"/>
<rect x="241.3" y="779.2" width="7.0" height="7.0" fill="#fff" stroke="#000" stroke-width="1.4"/>
<rect x="248.0" y="777.7" width="7.0" height="7.0" fill="#fff" stroke="#000" stroke-width="1.4"/>
<rect x="258.0" y="782.1" width="7.0" height="7.0" fill="#fff" stroke="#000" stroke-width="1.4"/>
<rect x="277.2" y="782.1" width="7.0" height="7.0" fill="#fff" stroke="#000" stroke-width="1.4"/>
<rect x="301.1" y="778.2" width="7.0" height="7.0" fill="#fff" stroke="#000" stroke-width="1.4"/>
<rect x="326.1" y="769.2" width="7.0" height="7.0" fill="#fff" stroke="#000" stroke-width="1.4"/>
<rect x="399.9" y="773.5" width="7.0" height="7.0" fill="#fff" stroke="#000" stroke-width="1.4"/>
<rect x="476.5" y="774.6" width="7.0" height="7.0" fill="#fff" stroke="#000" stroke-width="1.4"/>
<rect x="483.0" y="770.1" width="7.0" height="7.0" fill="#fff" stroke="#000" stroke-width="1.4"/>
<rect x="297.8" y="661" width="198.7" height="65.1" fill="#fff" stroke="#7a7a7a" stroke-width="1.2"/>
<line x1="308.6" y1="679.6" x2="344" y2="679.6" stroke="#000" stroke-width="2"/>
<polygon points="326.4,675.2 330.2,679.6 326.4,684.0 322.6,679.6" fill="#000" stroke="#000" stroke-width="1"/>
<line x1="308.6" y1="712.0" x2="344" y2="712.0" stroke="#000" stroke-width="2"/>
<rect x="322.5" y="708.3" width="7.4" height="7.4" fill="#fff" stroke="#000" stroke-width="1.3"/>
<text x="350.6" y="685.6" font-size="23.5" text-anchor="start" font-weight="normal" >Granulocytes</text>
<text x="350.6" y="718.2" font-size="23.5" text-anchor="start" font-weight="normal" >Lymphocytes</text>
<text x="41.2" y="946.2" font-size="27" text-anchor="start" font-weight="bold" >D</text>
<text x="263.0" y="969.5" font-size="24.2" text-anchor="start" font-weight="normal" >T04228</text>
<line x1="99.8" y1="1173.8" x2="510.3" y2="1173.8" stroke="#6e6e6e" stroke-width="1.3"/>
<text x="88.8" y="1182.1" font-size="23" text-anchor="end" font-weight="normal" >0</text>
<line x1="99.8" y1="1140.4" x2="510.3" y2="1140.4" stroke="#6e6e6e" stroke-width="1.3"/>
<text x="88.8" y="1148.7" font-size="23" text-anchor="end" font-weight="normal" >10</text>
<line x1="99.8" y1="1106.7" x2="510.3" y2="1106.7" stroke="#6e6e6e" stroke-width="1.3"/>
<text x="88.8" y="1115.0" font-size="23" text-anchor="end" font-weight="normal" >20</text>
<line x1="99.8" y1="1074.0" x2="510.3" y2="1074.0" stroke="#6e6e6e" stroke-width="1.3"/>
<text x="88.8" y="1082.3" font-size="23" text-anchor="end" font-weight="normal" >30</text>
<line x1="99.8" y1="1040.3" x2="510.3" y2="1040.3" stroke="#6e6e6e" stroke-width="1.3"/>
<text x="88.8" y="1048.6" font-size="23" text-anchor="end" font-weight="normal" >40</text>
<line x1="99.8" y1="1006.7" x2="510.3" y2="1006.7" stroke="#6e6e6e" stroke-width="1.3"/>
<text x="88.8" y="1015.0" font-size="23" text-anchor="end" font-weight="normal" >50</text>
<line x1="99.8" y1="974.1" x2="510.3" y2="974.1" stroke="#6e6e6e" stroke-width="1.3"/>
<text x="88.8" y="982.4" font-size="23" text-anchor="end" font-weight="normal" >60</text>
<line x1="510.3" y1="974.1" x2="510.3" y2="1173.8" stroke="#7a7a7a" stroke-width="1.2"/>
<line x1="107.1" y1="974.1" x2="107.1" y2="1173.8" stroke="#555" stroke-width="1.3"/>
<line x1="107.1" y1="1174.0" x2="107.1" y2="1181.5" stroke="#555" stroke-width="1.2"/>
<text x="107.1" y="1216.7" font-size="23" text-anchor="middle" font-weight="normal" >0</text>
<line x1="191.1" y1="1174.0" x2="191.1" y2="1181.5" stroke="#555" stroke-width="1.2"/>
<text x="191.1" y="1216.7" font-size="23" text-anchor="middle" font-weight="normal" >100</text>
<line x1="275.1" y1="1174.0" x2="275.1" y2="1181.5" stroke="#555" stroke-width="1.2"/>
<text x="275.1" y="1216.7" font-size="23" text-anchor="middle" font-weight="normal" >200</text>
<line x1="359.1" y1="1174.0" x2="359.1" y2="1181.5" stroke="#555" stroke-width="1.2"/>
<text x="359.1" y="1216.7" font-size="23" text-anchor="middle" font-weight="normal" >300</text>
<line x1="443.1" y1="1174.0" x2="443.1" y2="1181.5" stroke="#555" stroke-width="1.2"/>
<text x="443.1" y="1216.7" font-size="23" text-anchor="middle" font-weight="normal" >400</text>
<text x="306" y="1248.4" font-size="24.4" text-anchor="middle" font-weight="normal" >Days after transplantation</text>
<polyline points="111.0,1114.4 113.6,1143.3 116.7,1146.7 119.6,1151.9 123.7,1145.0 127.7,1141.5 131.7,1142.1 134.6,1123.1 139.8,1120.2 155.4,1061.9 159.6,1086.5 170.2,1091.9 176.0,1088.5 188.8,1086.9 198.7,1076.5 204.4,1085.0 214.0,1101.5 222.3,1087.5 225.6,1080.8 236.2,1101.0 249.5,1090.2 283.0,1112.0 287.1,1083.0 323.5,1078.3 331.5,1077.5 346.4,1081.8 353.1,1058.6 370.0,1083.8 387.4,1089.8 417.7,1065.0 440.8,1070.8 477.7,1091.0 496.1,1076.0" fill="none" stroke="#000" stroke-width="2.6" stroke-linejoin="round" stroke-linecap="round"/>
<polygon points="111.0,1109.8 115.4,1114.4 111.0,1119.0 106.6,1114.4" fill="#000" stroke="#000" stroke-width="1"/>
<polygon points="113.6,1138.7 118.0,1143.3 113.6,1147.9 109.2,1143.3" fill="#000" stroke="#000" stroke-width="1"/>
<polygon points="116.7,1142.1 121.1,1146.7 116.7,1151.3 112.3,1146.7" fill="#000" stroke="#000" stroke-width="1"/>
<polygon points="119.6,1147.3 124.0,1151.9 119.6,1156.5 115.2,1151.9" fill="#000" stroke="#000" stroke-width="1"/>
<polygon points="123.7,1140.4 128.1,1145.0 123.7,1149.6 119.3,1145.0" fill="#000" stroke="#000" stroke-width="1"/>
<polygon points="127.7,1136.9 132.1,1141.5 127.7,1146.1 123.3,1141.5" fill="#000" stroke="#000" stroke-width="1"/>
<polygon points="131.7,1137.5 136.1,1142.1 131.7,1146.7 127.3,1142.1" fill="#000" stroke="#000" stroke-width="1"/>
<polygon points="134.6,1118.5 139.0,1123.1 134.6,1127.7 130.2,1123.1" fill="#000" stroke="#000" stroke-width="1"/>
<polygon points="139.8,1115.6 144.2,1120.2 139.8,1124.8 135.4,1120.2" fill="#000" stroke="#000" stroke-width="1"/>
<polygon points="155.4,1057.3 159.8,1061.9 155.4,1066.5 151.0,1061.9" fill="#000" stroke="#000" stroke-width="1"/>
<polygon points="159.6,1081.9 164.0,1086.5 159.6,1091.1 155.2,1086.5" fill="#000" stroke="#000" stroke-width="1"/>
<polygon points="170.2,1087.3 174.6,1091.9 170.2,1096.5 165.8,1091.9" fill="#000" stroke="#000" stroke-width="1"/>
<polygon points="176.0,1083.9 180.4,1088.5 176.0,1093.1 171.6,1088.5" fill="#000" stroke="#000" stroke-width="1"/>
<polygon points="188.8,1082.3 193.2,1086.9 188.8,1091.5 184.4,1086.9" fill="#000" stroke="#000" stroke-width="1"/>
<polygon points="198.7,1071.9 203.1,1076.5 198.7,1081.1 194.3,1076.5" fill="#000" stroke="#000" stroke-width="1"/>
<polygon points="204.4,1080.4 208.8,1085.0 204.4,1089.6 200.0,1085.0" fill="#000" stroke="#000" stroke-width="1"/>
<polygon points="214.0,1096.9 218.4,1101.5 214.0,1106.1 209.6,1101.5" fill="#000" stroke="#000" stroke-width="1"/>
<polygon points="222.3,1082.9 226.7,1087.5 222.3,1092.1 217.9,1087.5" fill="#000" stroke="#000" stroke-width="1"/>
<polygon points="225.6,1076.2 230.0,1080.8 225.6,1085.4 221.2,1080.8" fill="#000" stroke="#000" stroke-width="1"/>
<polygon points="236.2,1096.4 240.6,1101.0 236.2,1105.6 231.8,1101.0" fill="#000" stroke="#000" stroke-width="1"/>
<polygon points="249.5,1085.6 253.9,1090.2 249.5,1094.8 245.1,1090.2" fill="#000" stroke="#000" stroke-width="1"/>
<polygon points="283.0,1107.4 287.4,1112.0 283.0,1116.6 278.6,1112.0" fill="#000" stroke="#000" stroke-width="1"/>
<polygon points="287.1,1078.4 291.5,1083.0 287.1,1087.6 282.7,1083.0" fill="#000" stroke="#000" stroke-width="1"/>
<polygon points="323.5,1073.7 327.9,1078.3 323.5,1082.9 319.1,1078.3" fill="#000" stroke="#000" stroke-width="1"/>
<polygon points="331.5,1072.9 335.9,1077.5 331.5,1082.1 327.1,1077.5" fill="#000" stroke="#000" stroke-width="1"/>
<polygon points="346.4,1077.2 350.8,1081.8 346.4,1086.4 342.0,1081.8" fill="#000" stroke="#000" stroke-width="1"/>
<polygon points="353.1,1054.0 357.5,1058.6 353.1,1063.2 348.7,1058.6" fill="#000" stroke="#000" stroke-width="1"/>
<polygon points="370.0,1079.2 374.4,1083.8 370.0,1088.4 365.6,1083.8" fill="#000" stroke="#000" stroke-width="1"/>
<polygon points="387.4,1085.2 391.8,1089.8 387.4,1094.4 383.0,1089.8" fill="#000" stroke="#000" stroke-width="1"/>
<polygon points="417.7,1060.4 422.1,1065.0 417.7,1069.6 413.3,1065.0" fill="#000" stroke="#000" stroke-width="1"/>
<polygon points="440.8,1066.2 445.2,1070.8 440.8,1075.4 436.4,1070.8" fill="#000" stroke="#000" stroke-width="1"/>
<polygon points="477.7,1086.4 482.1,1091.0 477.7,1095.6 473.3,1091.0" fill="#000" stroke="#000" stroke-width="1"/>
<polygon points="496.1,1071.4 500.5,1076.0 496.1,1080.6 491.7,1076.0" fill="#000" stroke="#000" stroke-width="1"/>
<polyline points="108.7,1173.8 111.5,1172.1 114.4,1171.0 117.3,1170.4 120.8,1168.1 124.8,1171.5 127.7,1165.8 131.2,1169.2 133.5,1160.0 139.8,1154.8 154.5,1150.0 158.5,1143.3 169.8,1148.1 176.0,1145.2 189.4,1136.2 198.5,1129.8 203.8,1133.1 213.8,1132.3 222.1,1124.0 226.0,1129.2 236.2,1133.7 248.3,1128.7 282.3,1132.9 287.1,1124.0 322.1,1125.4 331.0,1122.2 345.5,1122.2 352.5,1116.0 370.0,1117.2 387.4,1119.2 417.7,1123.6 440.8,1125.6 477.7,1135.1 496.1,1132.8" fill="none" stroke="#000" stroke-width="2.5" stroke-linejoin="round" stroke-linecap="round"/>
<rect x="105.3" y="1170.4" width="6.8" height="6.8" fill="#fff" stroke="#000" stroke-width="1.35"/>
<rect x="108.1" y="1168.7" width="6.8" height="6.8" fill="#fff" stroke="#000" stroke-width="1.35"/>
<rect x="111.0" y="1167.6" width="6.8" height="6.8" fill="#fff" stroke="#000" stroke-width="1.35"/>
<rect x="113.9" y="1167.0" width="6.8" height="6.8" fill="#fff" stroke="#000" stroke-width="1.35"/>
<rect x="117.4" y="1164.7" width="6.8" height="6.8" fill="#fff" stroke="#000" stroke-width="1.35"/>
<rect x="121.4" y="1168.1" width="6.8" height="6.8" fill="#fff" stroke="#000" stroke-width="1.35"/>
<rect x="124.3" y="1162.4" width="6.8" height="6.8" fill="#fff" stroke="#000" stroke-width="1.35"/>
<rect x="127.8" y="1165.8" width="6.8" height="6.8" fill="#fff" stroke="#000" stroke-width="1.35"/>
<rect x="130.1" y="1156.6" width="6.8" height="6.8" fill="#fff" stroke="#000" stroke-width="1.35"/>
<rect x="136.4" y="1151.4" width="6.8" height="6.8" fill="#fff" stroke="#000" stroke-width="1.35"/>
<rect x="151.1" y="1146.6" width="6.8" height="6.8" fill="#fff" stroke="#000" stroke-width="1.35"/>
<rect x="155.1" y="1139.9" width="6.8" height="6.8" fill="#fff" stroke="#000" stroke-width="1.35"/>
<rect x="166.4" y="1144.7" width="6.8" height="6.8" fill="#fff" stroke="#000" stroke-width="1.35"/>
<rect x="172.6" y="1141.8" width="6.8" height="6.8" fill="#fff" stroke="#000" stroke-width="1.35"/>
<rect x="186.0" y="1132.8" width="6.8" height="6.8" fill="#fff" stroke="#000" stroke-width="1.35"/>
<rect x="195.1" y="1126.4" width="6.8" height="6.8" fill="#fff" stroke="#000" stroke-width="1.35"/>
<rect x="200.4" y="1129.7" width="6.8" height="6.8" fill="#fff" stroke="#000" stroke-width="1.35"/>
<rect x="210.4" y="1128.9" width="6.8" height="6.8" fill="#fff" stroke="#000" stroke-width="1.35"/>
<rect x="218.7" y="1120.6" width="6.8" height="6.8" fill="#fff" stroke="#000" stroke-width="1.35"/>
<rect x="222.6" y="1125.8" width="6.8" height="6.8" fill="#fff" stroke="#000" stroke-width="1.35"/>
<rect x="232.8" y="1130.3" width="6.8" height="6.8" fill="#fff" stroke="#000" stroke-width="1.35"/>
<rect x="244.9" y="1125.3" width="6.8" height="6.8" fill="#fff" stroke="#000" stroke-width="1.35"/>
<rect x="278.9" y="1129.5" width="6.8" height="6.8" fill="#fff" stroke="#000" stroke-width="1.35"/>
<rect x="283.7" y="1120.6" width="6.8" height="6.8" fill="#fff" stroke="#000" stroke-width="1.35"/>
<rect x="318.7" y="1122.0" width="6.8" height="6.8" fill="#fff" stroke="#000" stroke-width="1.35"/>
<rect x="327.6" y="1118.8" width="6.8" height="6.8" fill="#fff" stroke="#000" stroke-width="1.35"/>
<rect x="342.1" y="1118.8" width="6.8" height="6.8" fill="#fff" stroke="#000" stroke-width="1.35"/>
<rect x="349.1" y="1112.6" width="6.8" height="6.8" fill="#fff" stroke="#000" stroke-width="1.35"/>
<rect x="366.6" y="1113.8" width="6.8" height="6.8" fill="#fff" stroke="#000" stroke-width="1.35"/>
<rect x="384.0" y="1115.8" width="6.8" height="6.8" fill="#fff" stroke="#000" stroke-width="1.35"/>
<rect x="414.3" y="1120.2" width="6.8" height="6.8" fill="#fff" stroke="#000" stroke-width="1.35"/>
<rect x="437.4" y="1122.2" width="6.8" height="6.8" fill="#fff" stroke="#000" stroke-width="1.35"/>
<rect x="474.3" y="1131.7" width="6.8" height="6.8" fill="#fff" stroke="#000" stroke-width="1.35"/>
<rect x="492.7" y="1129.4" width="6.8" height="6.8" fill="#fff" stroke="#000" stroke-width="1.35"/>
<rect x="304.4" y="985.6" width="193" height="63.4" fill="#fff" stroke="#7a7a7a" stroke-width="1.2"/>
<line x1="315.4" y1="1004" x2="349.9" y2="1004" stroke="#000" stroke-width="2"/>
<polygon points="332.9,1000.1 336.2,1004.0 332.9,1007.9 329.6,1004.0" fill="#000" stroke="#000" stroke-width="1"/>
<line x1="315.4" y1="1034.7" x2="349.9" y2="1034.7" stroke="#000" stroke-width="2"/>
<rect x="329.4" y="1031.2" width="7.0" height="7.0" fill="#fff" stroke="#000" stroke-width="1.3"/>
<text x="355.4" y="1010.9" font-size="23" text-anchor="start" font-weight="normal" >Granulocytes</text>
<text x="355.4" y="1041.3" font-size="23" text-anchor="start" font-weight="normal" >Lymphocytes</text>
<text transform="translate(18.0,1041.3) rotate(-90)" font-size="24" textLength="326" lengthAdjust="spacing">% Transgene expressing cells</text>
</svg>
</body></html>
